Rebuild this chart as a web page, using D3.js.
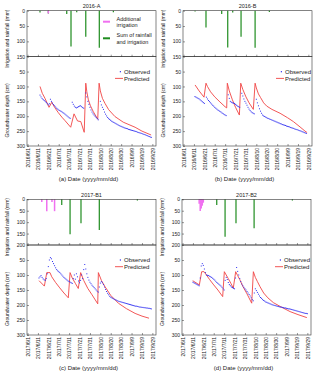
<!DOCTYPE html>
<html lang="en">
<head>
<meta charset="UTF-8" />
<title>Groundwater depth, irrigation and rainfall</title>
<script src="https://cdn.jsdelivr.net/npm/d3@7"></script>
<style>
  body { margin: 0; background: #fff; }
  svg { display: block; font-family: 'Liberation Sans', Arial, sans-serif; }
  .frame { fill: none; stroke: #333; stroke-width: 0.6; }
  .axis path { display: none; }
  .axis line { stroke: #333; stroke-width: 0.5; }
  .axis text { font-size: 5px; fill: #222; }
  .lbl { font-size: 5px; fill: #222; }
  .leg { font-size: 6px; fill: #222; }
  .pred { fill: none; stroke: #f04444; stroke-width: 0.9; }
  .obs { fill: #3030f0; }
  .rain { stroke: #1e8c1e; stroke-width: 1.2; }
  .irr { stroke: #f070f0; stroke-width: 1.5; }
</style>
</head>
<body>
<svg id="chart" width="320" height="375"></svg>
<script>
const panelNames = ["2016-A", "2016-B", "2017-B1", "2017-B2"];
const panelTags = ["(a)", "(b)", "(c)", "(d)"];
const panelYears = [2016, 2016, 2017, 2017];
const rainMax = [150, 150, 200, 200];
const rainTicksAB = [0, 50, 100, 150];
const rainTicksCD = [0, 50, 100, 150, 200];
const depthTicks = [50, 100, 150, 200, 250, 300];
// days after June 1
const tickDays = [0, 10, 20, 30, 40, 50, 60, 70, 80, 90, 100, 110, 120];

// observed groundwater depth (cm), one value per day from the start day
const obsA_start = 12;
const obsA = [129, 135, 140, 144, 147, 150, 154, 158, 162, 158, 143, 150, 156, 161, 165, 169, 173, 176, 179, 181,
  183, 185, 188, 190, 193, 196, 199, 202, 205, 207, null, 153, 160, 166, 170, 172, 170, 168, 166, 165,
  168, 171, 173, null, 122, 135, 150, 160, 170, 179, 186, 192, 196, 200, 204, 208, 212, null, 150, 162,
  170, 177, 186, 193, 199, 204, 208, 211, 214, 217, 219, 221, 223, 225, 227, 229, 231, 233, 234, 236,
  237, 239, 240, 241, 242, 244, 245, 246, 247, 248, 249, 250, 251, 252, 254, 255, 256, 257, 258, 260,
  261, 262, 264, 265, 267, 268, 270, 271];
const obsB_start = 11;
const obsB = [134, 136, 138, 140, 142, 145, 148, 151, 154, 157, null, 136, 142, 147, 151, 155, 159, 163, 166, 170,
  173, 176, 179, 181, 184, 186, 189, 191, 194, 196, 198, null, 128, 140, 150, 153, 155, 156, 157, 160,
  163, 166, 168, 170, null, 123, 132, 142, 150, 156, 163, 170, 176, 181, 185, 188, 190, 192, null, 143,
  155, 165, 175, 183, 190, 196, 199, 201, 203, 205, 207, 208, 210, 211, 213, 214, 216, 217, 219, 220,
  222, 223, 225, 226, 228, 229, 230, 231, 233, 234, 235, 236, 238, 239, 240, 241, 243, 244, 245, 246,
  248, 249, 250, 252, 253, 255, 256, 258];
const obsC_start = 11;
const obsC = [110, 106, 102, 108, 113, 116, 118, 112, 96, 72, 50, 42, 46, 55, 62, 69, 76, 82, 86, 89,
  92, 96, 100, 104, 108, 111, 114, 117, 120, 122, 124, 126, 128, 112, 100, 114, 96, 106, 120, 126,
  118, 100, 112, 82, 65, 80, 96, 108, 117, 124, 129, 134, 138, 142, 146, 150, 154, 157, 140, 127,
  122, 126, 132, 140, 148, 155, 161, 166, 171, 174, 176, 178, 180, 182, 183, 185, 187, 188, 189, 190,
  191, 192, 193, 194, 195, 196, 197, 198, 199, 200, 201, 202, 203, 204, 204, 205, 206, 207, 207, 208,
  208, 209, 209, 210, 210, 211, 211, 212, 213];
const obsD_start = 10;
const obsD = [124, 126, 128, 130, 132, 134, 136, 110, 70, 62, 68, 80, 92, 100, 101, 102, 104, 106, 108, 111,
  114, 117, 121, 125, 128, 131, 134, 137, 141, 146, 150, 118, 108, 115, 125, 132, 136, 140, 142, 144,
  146, 110, 75, 88, 100, 112, 122, 130, 136, 141, 146, 150, 155, 160, 165, 170, 176, 182, 186, 160,
  146, 152, 158, 164, 170, 175, 178, 182, 185, 187, 190, 191, 193, 194, 196, 197, 199, 200, 201, 202,
  203, 204, 205, 206, 207, 207, 208, 209, 210, 210, 211, 212, 213, 213, 214, 215, 216, 217, 218, 219,
  220, 221, 222, 223, 224, 225, 226, 227, 228, 228, 229];

// predicted groundwater depth (cm): [day, value]
const predA = [[12, 100], [14.2, 123], [16.8, 140], [20.7, 170], [23.3, 153], [26, 170], [29.6, 188], [33, 203],
  [36.1, 215], [41.5, 237], [44.7, 192], [48.1, 216], [51.2, 218], [54.5, 254], [56, 89], [57, 118],
  [58.5, 145], [60.5, 165], [63.3, 185], [67.5, 210], [68.8, 89], [70, 115], [72, 140], [74.5, 157],
  [78, 178], [84, 201], [92, 220], [103.4, 237], [110, 250], [118.8, 263]];
const predB = [[11.1, 95], [15, 115], [19.7, 136], [21.6, 89], [23, 100], [26, 118], [30, 135], [35, 152],
  [39.9, 168], [41.5, 172], [42.1, 89], [44, 115], [47, 145], [50, 170], [53.7, 196], [55, 89], [57, 110],
  [60, 135], [63, 155], [67.1, 177], [68.8, 89], [70, 105], [72, 125], [74, 137], [77, 155], [80, 166],
  [85, 177], [92.8, 190], [100, 205], [105.6, 218], [112, 236], [116.8, 250], [118.8, 255]];
const predC = [[11.1, 119], [16.2, 137], [18.5, 92], [21.6, 92], [23.3, 106], [27, 125], [31, 143], [35, 160],
  [39.2, 176], [40.9, 92], [43, 110], [46, 128], [48.8, 145], [51.1, 92], [54, 118], [58, 145], [62, 166],
  [67.5, 196], [68.1, 92], [71, 118], [74.5, 139], [80, 168], [87.3, 194], [95, 212], [103.4, 228],
  [110, 237], [116.8, 244]];
const predD = [[9.8, 119], [16.2, 133], [18.4, 89], [20.7, 89], [23, 100], [26, 115], [30, 133], [34, 150],
  [38.6, 172], [40.2, 89], [42, 100], [44, 112], [46.5, 128], [48.8, 144], [51.1, 89], [53, 102], [55, 115],
  [58, 138], [62, 163], [66.5, 194], [68.1, 89], [70, 108], [72, 122], [74.5, 139], [78, 160], [82, 176],
  [87.3, 192], [95, 207], [103.4, 222], [111, 232], [119.5, 242]];

// sum of rainfall and irrigation (mm): [day, value]
const rainA = [[12, 6], [20, 9], [37.7, 11], [41.8, 117], [47.3, 5], [56, 85], [69, 121], [82.5, 5]];
const rainB = [[11.1, 3], [21.6, 55], [36.7, 11], [42.5, 120], [47.3, 6], [55.3, 85], [68.8, 121], [82.5, 4]];
const rainC = [[32.9, 25], [40.9, 153], [51.4, 105], [69, 134], [105.6, 5]];
const rainD = [[32.9, 25], [40.9, 164], [51.4, 105], [68.8, 127], [105.6, 5]];
// additional irrigation (mm): [day, value]
const irrA = [[20, 9]];
const irrB = [];
const irrC = [[13.7, 12], [18.5, 52], [23.5, 12], [26, 52]];
const irrD = [[16, 20], [17, 51], [18, 40], [19, 28], [20, 15]];

const obsStarts = [obsA_start, obsB_start, obsC_start, obsD_start];
const obsAll = [obsA, obsB, obsC, obsD];
const predAll = [predA, predB, predC, predD];
const rainAll = [rainA, rainB, rainC, rainD];
const irrAll = [irrA, irrB, irrC, irrD];

// plot frames in pixels
const frames = [
  { left: 27, right: 156, top: 10.7, mid: 56.7, bottom: 146, legX: 124 },
  { left: 183, right: 312, top: 10.7, mid: 56.7, bottom: 146, legX: 285 },
  { left: 27, right: 156, top: 199.3, mid: 245, bottom: 335, legX: 124 },
  { left: 182, right: 311, top: 199.3, mid: 245, bottom: 335, legX: 284 }
];

const svg = d3.select("#chart");
const fmt = d3.timeFormat("%Y/%-m/%-d");

frames.forEach((f, i) => {
  const base = new Date(panelYears[i], 5, 1);
  const day = d => new Date(base.getTime() + d * 864e5);
  const x = d3.scaleTime().domain([day(-0.5), day(123.5)]).range([f.left, f.right]);
  const yTop = d3.scaleLinear().domain([0, rainMax[i]]).range([f.top, f.mid]);
  const yBot = d3.scaleLinear().domain([0, 300]).range([f.mid, f.bottom]);
  const g = svg.append("g");
  const tickDates = tickDays.map(day);

  // bars hanging from the top
  g.selectAll(".rain").data(rainAll[i]).join("line")
    .attr("class", "rain")
    .attr("x1", d => x(day(d[0]))).attr("x2", d => x(day(d[0])))
    .attr("y1", yTop(0)).attr("y2", d => yTop(d[1]));
  g.selectAll(".irr").data(irrAll[i]).join("line")
    .attr("class", "irr")
    .attr("x1", d => x(day(d[0]))).attr("x2", d => x(day(d[0])))
    .attr("y1", yTop(0)).attr("y2", d => yTop(d[1]));

  // predicted line
  const line = d3.line().x(d => x(day(d[0]))).y(d => yBot(d[1]));
  g.append("path").datum(predAll[i]).attr("class", "pred").attr("d", line);

  // observed points
  const obs = obsAll[i].map((v, k) => [obsStarts[i] + k, v]).filter(d => d[1] != null);
  g.selectAll(".obs").data(obs).join("rect")
    .attr("class", "obs")
    .attr("x", d => x(day(d[0])) - 0.5).attr("y", d => yBot(d[1]) - 0.5)
    .attr("width", 1).attr("height", 1);

  // frames
  g.append("rect").attr("class", "frame")
    .attr("x", f.left).attr("y", f.top).attr("width", f.right - f.left).attr("height", f.mid - f.top);
  g.append("rect").attr("class", "frame")
    .attr("x", f.left).attr("y", f.mid).attr("width", f.right - f.left).attr("height", f.bottom - f.mid);

  // axes
  g.append("g").attr("class", "axis").attr("transform", `translate(${f.left},0)`)
    .call(d3.axisLeft(yTop).tickValues(rainMax[i] === 150 ? rainTicksAB : rainTicksCD).tickSize(-2).tickPadding(2));
  g.append("g").attr("class", "axis").attr("transform", `translate(${f.left},0)`)
    .call(d3.axisLeft(yBot).tickValues(depthTicks).tickSize(-2).tickPadding(2));
  g.append("g").attr("class", "axis").attr("transform", `translate(0,${f.mid})`)
    .call(d3.axisBottom(x).tickValues(tickDates).tickSize(-2).tickFormat(""));
  g.append("g").attr("class", "axis").attr("transform", `translate(0,${f.bottom})`)
    .call(d3.axisBottom(x).tickValues(tickDates).tickSize(-2).tickFormat(fmt))
    .selectAll("text")
    .attr("transform", "rotate(-90)")
    .attr("text-anchor", "end")
    .attr("x", -2).attr("y", 0).attr("dy", "0.35em");

  // titles
  const cx = (f.left + f.right) / 2;
  g.append("text").attr("class", "lbl").attr("x", cx).attr("y", f.top - 2.5)
    .attr("text-anchor", "middle").style("font-size", "5.5px").text(panelNames[i]);
  g.append("text").attr("class", "lbl").style("font-size", "6px")
    .attr("x", cx - 3).attr("y", f.bottom + 35).attr("text-anchor", "middle")
    .text(`${panelTags[i]} Date (yyyy/mm/dd)`);
  g.append("text").attr("class", "lbl")
    .attr("transform", `translate(${f.left - 20},${(f.top + f.mid) / 2 + 5}) rotate(-90)`)
    .attr("text-anchor", "middle").attr("dy", "0.35em").text("Irrigation and rainfall (mm)");
  g.append("text").attr("class", "lbl")
    .attr("transform", `translate(${f.left - 20},${(f.mid + f.bottom) / 2 + 9}) rotate(-90)`)
    .attr("text-anchor", "middle").attr("dy", "0.35em").text("Groundwater depth (cm)");

  // legend for observed / predicted
  const ly = f.mid + 15;
  g.append("rect").attr("class", "obs").attr("x", f.legX - 4.2).attr("y", ly - 0.6).attr("width", 1.2).attr("height", 1.2);
  g.append("text").attr("class", "leg").attr("x", f.legX).attr("y", ly).attr("dy", "0.35em").text("Observed");
  g.append("line").attr("class", "pred").attr("x1", f.legX - 9).attr("x2", f.legX - 1).attr("y1", ly + 6.7).attr("y2", ly + 6.7);
  g.append("text").attr("class", "leg").attr("x", f.legX).attr("y", ly + 6.7).attr("dy", "0.35em").text("Predicted");

  // legend for irrigation bars (first panel only)
  if (i === 0) {
    const lx = 103;
    g.append("line").attr("class", "irr").style("stroke-width", 2)
      .attr("x1", lx).attr("x2", lx + 7).attr("y1", 21.7).attr("y2", 21.7);
    g.append("text").attr("class", "lbl").style("font-size", "5.5px").attr("x", lx + 13.5).attr("y", 19).attr("dy", "0.35em").text("Additional");
    g.append("text").attr("class", "lbl").style("font-size", "5.5px").attr("x", lx + 13.5).attr("y", 25.3).attr("dy", "0.35em").text("irrigation");
    g.append("line").attr("class", "rain").style("stroke-width", 2)
      .attr("x1", lx).attr("x2", lx + 7).attr("y1", 38.3).attr("y2", 38.3);
    g.append("text").attr("class", "lbl").style("font-size", "5.5px").attr("x", lx + 13.5).attr("y", 35).attr("dy", "0.35em").text("Sum of rainfall");
    g.append("text").attr("class", "lbl").style("font-size", "5.5px").attr("x", lx + 13.5).attr("y", 41.7).attr("dy", "0.35em").text("and irrigation");
  }
});
</script>
</body>
</html>
